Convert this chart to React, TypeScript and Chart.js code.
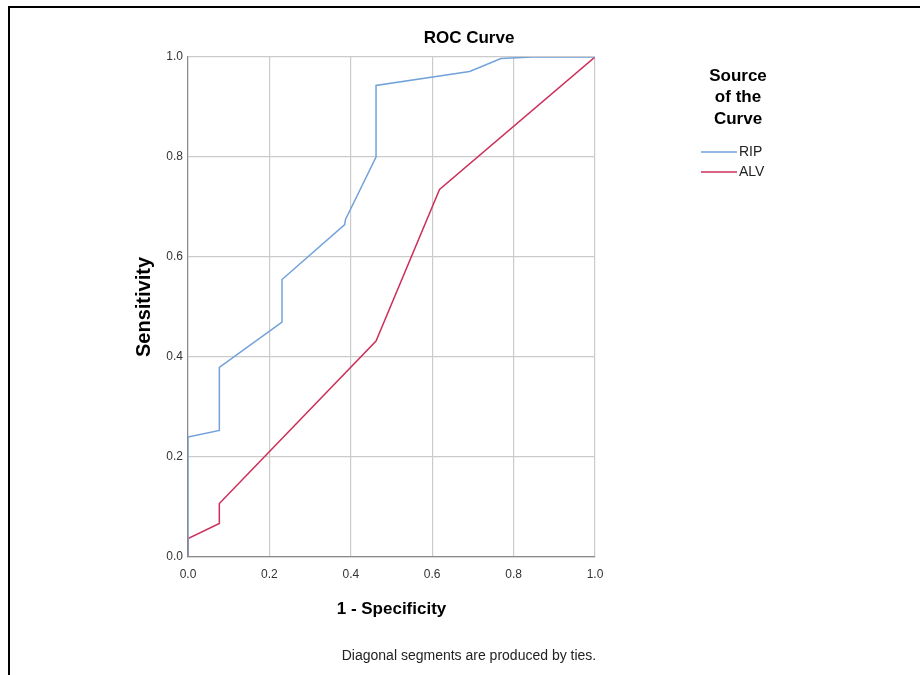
import React, { useEffect, useRef } from "react";
import { Chart, registerables } from "chart.js";

Chart.register(...registerables);

// ---- data ----
const ripFpr = [0, 0, 0.077, 0.077, 0.231, 0.231, 0.385, 0.387, 0.462, 0.462, 0.692, 0.769, 0.846, 1.0];
const ripTpr = [0, 0.24, 0.253, 0.379, 0.47, 0.555, 0.665, 0.675, 0.8, 0.943, 0.971, 0.997, 1.0, 1.0];
const alvFpr = [0, 0, 0.077, 0.077, 0.462, 0.618, 1.0];
const alvTpr = [0, 0.037, 0.067, 0.107, 0.432, 0.735, 1.0];
const seriesNames = ["RIP", "ALV"];
const tickLabels = ["0.0", "0.2", "0.4", "0.6", "0.8", "1.0"];
const legendTitle = ["Source", "of the", "Curve"];
const chartTitle = "ROC Curve";
const xTitle = "1 - Specificity";
const yTitle = "Sensitivity";
const footnote = "Diagonal segments are produced by ties.";

const FONT = "'Liberation Sans', Arial, Helvetica, sans-serif";
const BLUE = "#72a2da";
const RED = "#cc2f5a";

const toPoints = (xs: number[], ys: number[]) => xs.map((x, i) => ({ x, y: ys[i] }));

const decorPlugin = {
  id: "decor",
  afterDraw(chart: any) {
    const ctx = chart.ctx as CanvasRenderingContext2D;
    ctx.save();
    // outer frame (top and left edges)
    ctx.strokeStyle = "#000";
    ctx.lineWidth = 2;
    ctx.beginPath();
    ctx.moveTo(9, 675);
    ctx.lineTo(9, 7);
    ctx.lineTo(920, 7);
    ctx.stroke();

    // legend
    ctx.fillStyle = "#000";
    ctx.textAlign = "center";
    ctx.textBaseline = "middle";
    ctx.font = `bold 17px ${FONT}`;
    legendTitle.forEach((t, i) => ctx.fillText(t, 738, 76 + i * 21.5));
    const colors = [BLUE, RED];
    ctx.font = `14px ${FONT}`;
    ctx.textAlign = "left";
    seriesNames.forEach((name, i) => {
      const y = 152 + i * 20;
      ctx.strokeStyle = colors[i];
      ctx.lineWidth = 1.5;
      ctx.beginPath();
      ctx.moveTo(701, y);
      ctx.lineTo(737, y);
      ctx.stroke();
      ctx.fillStyle = "#222";
      ctx.fillText(name, 739, y + 0.5);
    });
    ctx.restore();
  },
};

export default function App() {
  const ref = useRef<HTMLCanvasElement | null>(null);

  useEffect(() => {
    if (!ref.current) return;
    const chart = new Chart(ref.current, {
      type: "scatter",
      data: {
        datasets: [
          {
            label: seriesNames[0],
            data: toPoints(ripFpr, ripTpr),
            showLine: true,
            borderColor: BLUE,
            backgroundColor: BLUE,
            borderWidth: 1.5,
            pointRadius: 0,
            tension: 0,
          },
          {
            label: seriesNames[1],
            data: toPoints(alvFpr, alvTpr),
            showLine: true,
            borderColor: RED,
            backgroundColor: RED,
            borderWidth: 1.5,
            pointRadius: 0,
            tension: 0,
          },
        ],
      },
      options: {
        responsive: false,
        animation: false,
        layout: { padding: { left: 18, right: 0, top: 0, bottom: 0 } },
        plugins: {
          legend: { display: false },
          tooltip: { enabled: false },
          title: {
            display: true,
            text: chartTitle,
            color: "#000",
            font: { family: FONT, size: 17, weight: "bold" },
            padding: { top: 28, bottom: 8.6 },
          },
          subtitle: {
            display: true,
            position: "bottom",
            text: footnote,
            color: "#222",
            font: { family: FONT, size: 14, weight: "normal" },
            padding: { top: 0, bottom: 10.6 },
          },
        },
        scales: {
          x: {
            type: "linear",
            position: "bottom",
            min: 0,
            max: 1,
            afterFit: (s: any) => {
              s.height = 90.6;
            },
            ticks: {
              stepSize: 0.2,
              padding: 10,
              color: "#333",
              font: { family: FONT, size: 12 },
              maxRotation: 0,
              callback: (_v: any, i: number) => tickLabels[i],
            },
            grid: { color: "#cbcbcb", lineWidth: 1.2, drawTicks: false },
            border: { color: "#8a8a8a", width: 1.2 },
            title: {
              display: true,
              text: xTitle,
              color: "#000",
              font: { family: FONT, size: 17, weight: "bold" },
              padding: { top: 0, bottom: 28.4 },
            },
          },
          y: {
            type: "linear",
            position: "left",
            min: 0,
            max: 1,
            afterFit: (s: any) => {
              s.width = 170;
            },
            ticks: {
              stepSize: 0.2,
              padding: 5,
              color: "#333",
              font: { family: FONT, size: 12 },
              callback: (_v: any, i: number) => tickLabels[i],
            },
            grid: { color: "#cbcbcb", lineWidth: 1.2, drawTicks: false },
            border: { color: "#8a8a8a", width: 1.2 },
            title: {
              display: true,
              text: yTitle,
              color: "#000",
              font: { family: FONT, size: 20, weight: "bold" },
              padding: { top: 114, bottom: 0 },
            },
          },
          yRight: {
            type: "linear",
            position: "right",
            display: true,
            min: 0,
            max: 1,
            afterFit: (s: any) => {
              s.width = 325;
            },
            ticks: { display: false },
            grid: { display: false, drawTicks: false },
            border: { display: false },
          },
        },
      },
      plugins: [decorPlugin],
    } as any);
    return () => chart.destroy();
  }, []);

  return (
    <div style={{ position: "absolute", left: 0, top: 0, width: 920, height: 675, background: "#fff" }}>
      <canvas ref={ref} width={920} height={675} style={{ display: "block" }} />
    </div>
  );
}
